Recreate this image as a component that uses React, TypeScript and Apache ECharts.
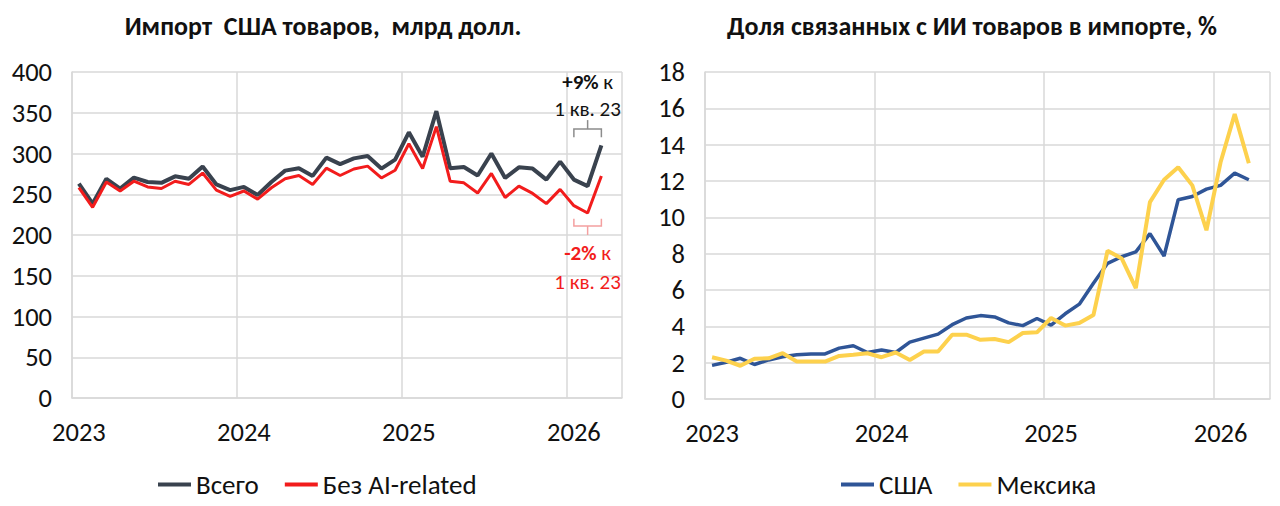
import { useEffect, useRef } from "react";
import * as echarts from "echarts";

// ---- data ----
const yearList = ["2023", "2024", "2025", "2026"];
const monthList = ["01", "02", "03", "04", "05", "06", "07", "08", "09", "10", "11", "12"];
const categories: string[] = yearList
  .flatMap((y) => monthList.map((m) => `${y}-${m}`))
  .slice(0, 40);

// Импорт США товаров, млрд долл. (Jan 2023 .. Mar 2026)
const totalImports = [
  263, 238.5, 269, 257, 270.5, 265, 264, 272, 269, 284, 262, 255,
  259, 249, 265, 279, 282, 272.5, 295, 287, 294, 297, 281.5, 292.5,
  326, 296, 352, 282, 283.5, 273, 300, 270, 283, 281.5, 268, 290,
  268, 260, 310,
];
const nonAiImports = [
  258, 234, 265, 254, 266, 259, 257, 266, 262, 276, 255, 247.5,
  254, 244, 258, 269, 273, 262, 282, 273, 281, 284.5, 270, 279.5,
  312, 281.5, 333, 266, 264, 251.5, 275.5, 246, 260, 251, 238.5, 256,
  236, 227, 272.5,
];

// Доля связанных с ИИ товаров в импорте, %
const usaShare = [
  1.85, 2.02, 2.24, 1.9, 2.15, 2.33, 2.43, 2.48, 2.48, 2.8, 2.93, 2.56,
  2.7, 2.56, 3.13, 3.35, 3.57, 4.09, 4.46, 4.59, 4.52, 4.19, 4.04, 4.43,
  4.07, 4.69, 5.22, 6.37, 7.47, 7.83, 8.1, 9.1, 7.87, 10.97, 11.15, 11.55,
  11.76, 12.43, 12.07,
];
const mexicoShare = [
  2.3, 2.11, 1.83, 2.22, 2.24, 2.52, 2.06, 2.06, 2.06, 2.37, 2.43, 2.52,
  2.3, 2.56, 2.15, 2.61, 2.61, 3.54, 3.54, 3.26, 3.3, 3.13, 3.63, 3.67,
  4.46, 4.04, 4.18, 4.62, 8.16, 7.74, 6.1, 10.84, 12.07, 12.76, 11.76, 9.29,
  13.03, 15.68, 12.98,
];

const leftTicks = { min: 0, max: 400, interval: 50 };
const rightTicks = { min: 0, max: 18, interval: 2 };

const FONT = "Carlito, Calibri, Roboto, sans-serif";
const GRID_COLOR = "#d9d9d9";
const TEXT_COLOR = "#111111";
const AXIS_FONT = 26.5;
const NOTE_FONT = 21;

const xAxisFor = (gridIndex: number) => ({
  type: "category" as const,
  gridIndex,
  data: categories,
  boundaryGap: true,
  axisLine: { show: true, lineStyle: { color: GRID_COLOR, width: 1.5 } },
  axisTick: { show: false },
  axisLabel: {
    interval: 11,
    margin: 20,
    color: TEXT_COLOR,
    fontFamily: FONT,
    fontSize: AXIS_FONT,
    formatter: (v: string) => v.slice(0, 4),
  },
  splitLine: { show: true, interval: 11, lineStyle: { color: GRID_COLOR, width: 1.5 } },
});

const yAxisFor = (gridIndex: number, t: { min: number; max: number; interval: number }) => ({
  type: "value" as const,
  gridIndex,
  min: t.min,
  max: t.max,
  interval: t.interval,
  axisLine: { show: true, lineStyle: { color: GRID_COLOR, width: 1.5 } },
  axisTick: { show: false },
  axisLabel: { margin: 20, color: TEXT_COLOR, fontFamily: FONT, fontSize: AXIS_FONT },
  splitLine: { show: true, lineStyle: { color: GRID_COLOR, width: 1.5 } },
});

export default function App() {
  const ref = useRef<HTMLDivElement>(null);

  useEffect(() => {
    document.body.style.margin = "0";
    if (!ref.current) return;
    const chart = echarts.init(ref.current, undefined, { renderer: "svg" });
    chart.setOption({
      animation: false,
      backgroundColor: "#ffffff",
      title: [
        {
          text: "Импорт  США товаров,  млрд долл.",
          left: 318,
          top: 8,
          textAlign: "center",
          textStyle: { fontFamily: FONT, fontSize: 26, fontWeight: "bold", color: TEXT_COLOR },
        },
        {
          text: "Доля связанных с ИИ товаров в импорте, %",
          left: 967,
          top: 8,
          textAlign: "center",
          textStyle: { fontFamily: FONT, fontSize: 26, fontWeight: "bold", color: TEXT_COLOR },
        },
      ],
      legend: [
        {
          data: ["Всего", "Без AI-related"],
          left: 153,
          top: 466,
          icon: "rect",
          itemWidth: 33,
          itemHeight: 4,
          itemGap: 26,
          textStyle: { fontFamily: FONT, fontSize: 27, color: TEXT_COLOR },
        },
        {
          data: ["США", "Мексика"],
          left: 836,
          top: 466,
          icon: "rect",
          itemWidth: 33,
          itemHeight: 4,
          itemGap: 26,
          textStyle: { fontFamily: FONT, fontSize: 27, color: TEXT_COLOR },
        },
      ],
      grid: [
        { left: 72, top: 72, width: 550, height: 326 },
        { left: 705, top: 72, width: 565, height: 327 },
      ],
      xAxis: [xAxisFor(0), xAxisFor(1)],
      yAxis: [yAxisFor(0, leftTicks), yAxisFor(1, rightTicks)],
      series: [
        {
          name: "Всего",
          type: "line",
          xAxisIndex: 0,
          yAxisIndex: 0,
          data: totalImports,
          showSymbol: false,
          lineStyle: { color: "#39424e", width: 4 },
          itemStyle: { color: "#39424e" },
        },
        {
          name: "Без AI-related",
          type: "line",
          xAxisIndex: 0,
          yAxisIndex: 0,
          data: nonAiImports,
          showSymbol: false,
          lineStyle: { color: "#f21c1c", width: 3 },
          itemStyle: { color: "#f21c1c" },
        },
        {
          name: "США",
          type: "line",
          xAxisIndex: 1,
          yAxisIndex: 1,
          data: usaShare,
          showSymbol: false,
          lineStyle: { color: "#2f5597", width: 3.5 },
          itemStyle: { color: "#2f5597" },
        },
        {
          name: "Мексика",
          type: "line",
          xAxisIndex: 1,
          yAxisIndex: 1,
          data: mexicoShare,
          showSymbol: false,
          lineStyle: { color: "#fdd14d", width: 4 },
          itemStyle: { color: "#fdd14d" },
        },
      ],
    });

    // annotations positioned via the chart's own scales
    const px = (i: number, v: number) =>
      chart.convertToPixel({ xAxisIndex: 0, yAxisIndex: 0 }, [i, v]) as number[];
    const a = px(36, 320);
    const b = px(36, 330);
    const c = px(38, 330);
    const d = px(38, 320);
    const m1 = px(37, 330);
    const m2 = px(37, 341);
    const r1 = px(36, 220);
    const r2 = px(36, 211);
    const r3 = px(38, 211);
    const r4 = px(38, 220);
    const rm1 = px(37, 211);
    const rm2 = px(37, 200);
    const t1 = px(37, 388);
    const t2 = px(37, 354);
    const t3 = px(37, 178);
    const t4 = px(37, 142);

    const noteText = (p: number[], text: string, fill: string, rich?: boolean) => ({
      type: "text",
      x: p[0],
      y: p[1],
      z: 10,
      style: {
        text,
        align: "center",
        verticalAlign: "middle",
        fontFamily: FONT,
        fontSize: NOTE_FONT,
        fill,
        ...(rich
          ? { rich: { b: { fontFamily: FONT, fontSize: NOTE_FONT, fontWeight: "bold", fill } } }
          : {}),
      },
    });

    chart.setOption({
      graphic: [
        {
          type: "polyline",
          shape: { points: [a, b, c, d] },
          style: { stroke: "#8c8c8c", lineWidth: 1.5, fill: "none" },
          z: 10,
        },
        {
          type: "line",
          shape: { x1: m1[0], y1: m1[1], x2: m2[0], y2: m2[1] },
          style: { stroke: "#8c8c8c", lineWidth: 1.5 },
          z: 10,
        },
        {
          type: "polyline",
          shape: { points: [r1, r2, r3, r4] },
          style: { stroke: "#f4a0a0", lineWidth: 1.5, fill: "none" },
          z: 10,
        },
        {
          type: "line",
          shape: { x1: rm1[0], y1: rm1[1], x2: rm2[0], y2: rm2[1] },
          style: { stroke: "#f4a0a0", lineWidth: 1.5 },
          z: 10,
        },
        noteText(t1, "{b|+9%} к", TEXT_COLOR, true),
        noteText(t2, "1 кв. 23", TEXT_COLOR),
        noteText(t3, "{b|-2%} к", "#f21c1c", true),
        noteText(t4, "1 кв. 23", "#f21c1c"),
      ],
    });

    return () => chart.dispose();
  }, []);

  return (
    <div
      ref={ref}
      style={{ position: "fixed", left: 0, top: 0, width: 1280, height: 506, background: "#fff" }}
    />
  );
}
